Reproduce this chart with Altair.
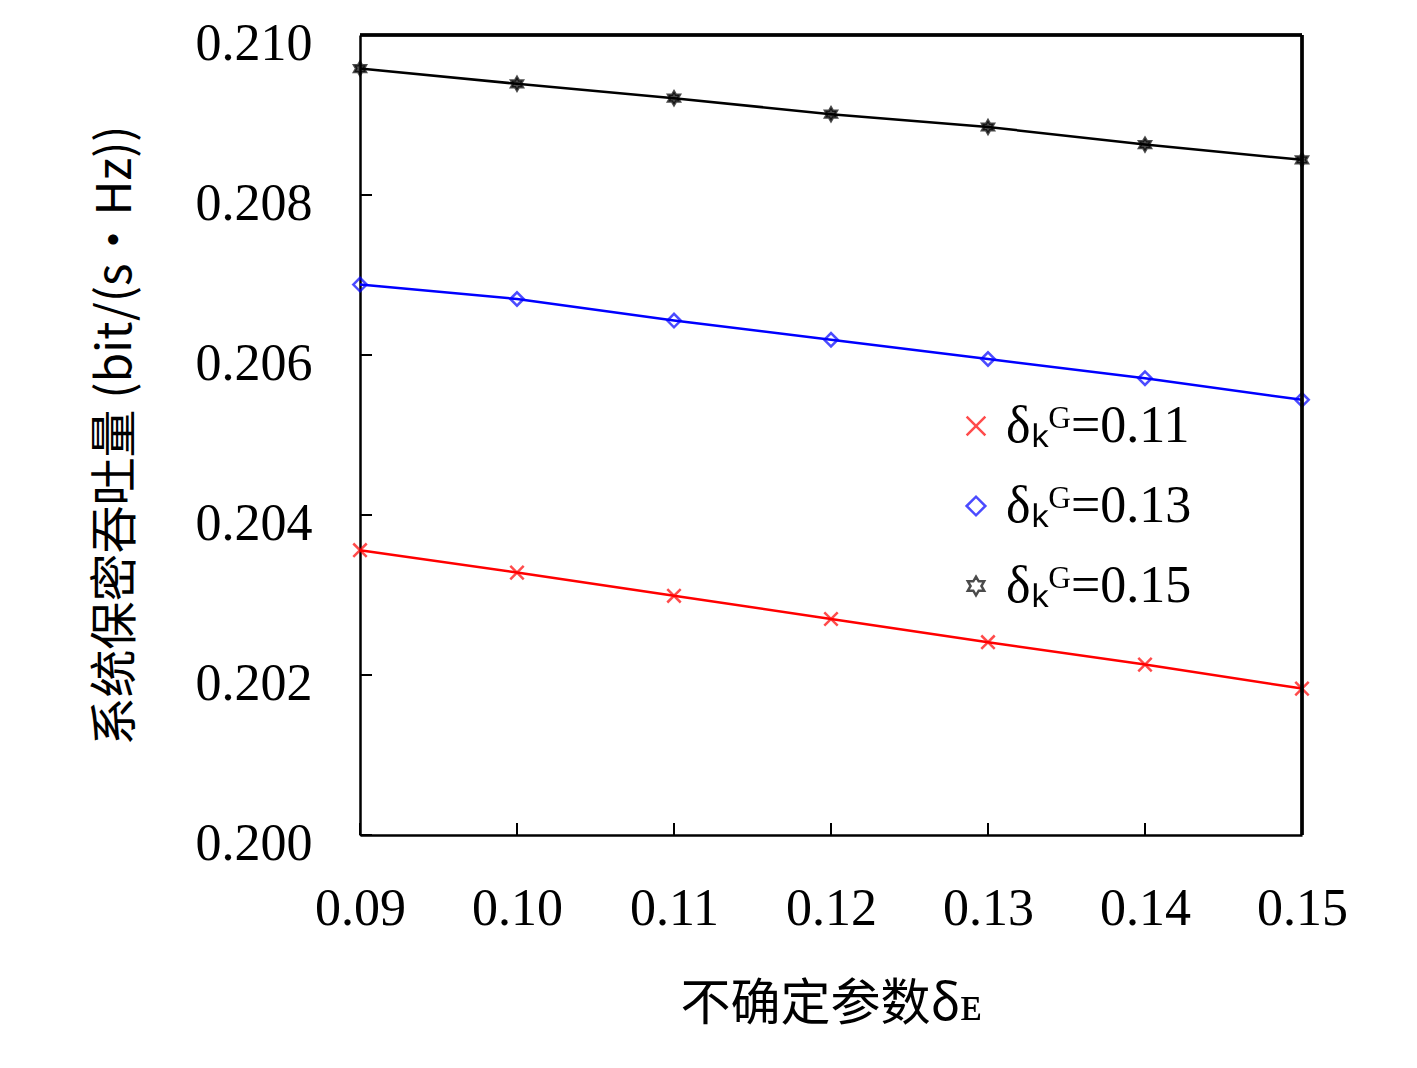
import altair as alt
import pandas as pd

x_vals = [0.09, 0.10, 0.11, 0.12, 0.13, 0.14, 0.15]
red_vals = [0.20356, 0.20328, 0.20299, 0.20270, 0.20241, 0.20213, 0.20183]
blue_vals = [0.20688, 0.20670, 0.20643, 0.20619, 0.20595, 0.20571, 0.20544]
black_vals = [0.20958, 0.20939, 0.20921, 0.20901, 0.20885, 0.20863, 0.20844]
series = ["δₖᴳ=0.11", "δₖᴳ=0.13", "δₖᴳ=0.15"]
x_ticks = x_vals
y_ticks = [0.200, 0.202, 0.204, 0.206, 0.208, 0.210]

rows = []
for name, vals in zip(series, [red_vals, blue_vals, black_vals]):
    for x, y in zip(x_vals, vals):
        rows.append({"x": x, "y": y, "s": name})
df = pd.DataFrame(rows)

SERIF = "Liberation Serif"
STAR = "M0,-1L0.29,-0.5L0.87,-0.5L0.58,0L0.87,0.5L0.29,0.5L0,1L-0.29,0.5L-0.87,0.5L-0.58,0L-0.87,-0.5L-0.29,-0.5Z"
XMARK = "M-1,-1L1,1M1,-1L-1,1"
xs = alt.Scale(domain=[0.09, 0.15], nice=False)
ys = alt.Scale(domain=[0.200, 0.210], nice=False)
color = alt.Scale(domain=series, range=["#ff0000", "#0000ff", "#000000"])
shape = alt.Scale(domain=series, range=[XMARK, "diamond", STAR])

legend = alt.Legend(
    title=None, orient="none", legendX=590, legendY=365,
    labelFont=SERIF, labelFontSize=52, labelColor="black",
    symbolSize=350, symbolStrokeWidth=2.5, rowPadding=28,
    labelLimit=400, symbolType="stroke")

base = alt.Chart(df)
lines = base.mark_line(strokeWidth=2.5).encode(
    x=alt.X("x:Q", scale=xs,
            axis=alt.Axis(values=x_ticks, format=".2f", title="不确定参数δᴇ",
                          labelFont=SERIF, labelFontSize=52, labelPadding=48,
                          labelFlush=False,
                          labelColor="black", tickSize=0, domainColor="black",
                          domainWidth=2.5, grid=False, titleFont="Noto Sans CJK SC",
                          titleFontSize=50, titleFontWeight="normal",
                          titlePadding=45, titleColor="black")),
    y=alt.Y("y:Q", scale=ys,
            axis=alt.Axis(values=y_ticks, format=".3f",
                          title="系统保密吞吐量 (bit/(s·Hz))",
                          labelFont=SERIF, labelFontSize=52, labelPadding=48,
                          labelOffset=8, labelFlush=False,
                          labelColor="black", tickSize=0, domainColor="black",
                          domainWidth=2.5, grid=False, titleFont="Noto Sans CJK SC",
                          titleFontSize=48, titleFontWeight="normal",
                          titlePadding=55, titleColor="black")),
    color=alt.Color("s:N", scale=color, legend=legend),
)
points = base.mark_point(size=180, filled=False, strokeWidth=2.5).encode(
    x="x:Q", y="y:Q",
    color=alt.Color("s:N", scale=color, legend=legend),
    shape=alt.Shape("s:N", scale=shape, legend=None),
)
star_fill = base.transform_filter(alt.datum.s == series[2]).mark_point(
    size=180, filled=True, color="black", shape=STAR
).encode(x="x:Q", y="y:Q")

tick_df = pd.DataFrame({"x": x_ticks})
xticks = alt.Chart(tick_df).mark_rule(color="black", strokeWidth=2).encode(
    x="x:Q", y=alt.value(800), y2=alt.value(788))
ytick_df = pd.DataFrame({"y": y_ticks})
yticks = alt.Chart(ytick_df).mark_rule(color="black", strokeWidth=2).encode(
    y="y:Q", x=alt.value(0), x2=alt.value(12))
top = alt.Chart(tick_df).mark_rule(color="black", strokeWidth=2.5).encode(
    x=alt.value(0), x2=alt.value(942), y=alt.value(0))
right = alt.Chart(tick_df).mark_rule(color="black", strokeWidth=2.5).encode(
    x=alt.value(942), y=alt.value(0), y2=alt.value(800))

chart = alt.layer(lines, points, star_fill, xticks, yticks, top, right).properties(
    width=942, height=800,
    autosize=alt.AutoSizeParams(type="none"),
    padding={"left": 352, "top": 27, "right": 100, "bottom": 230},
).configure_view(stroke=None).configure(background="white")

chart.save("out.html", embed_options={"renderer": "svg", "actions": False})
